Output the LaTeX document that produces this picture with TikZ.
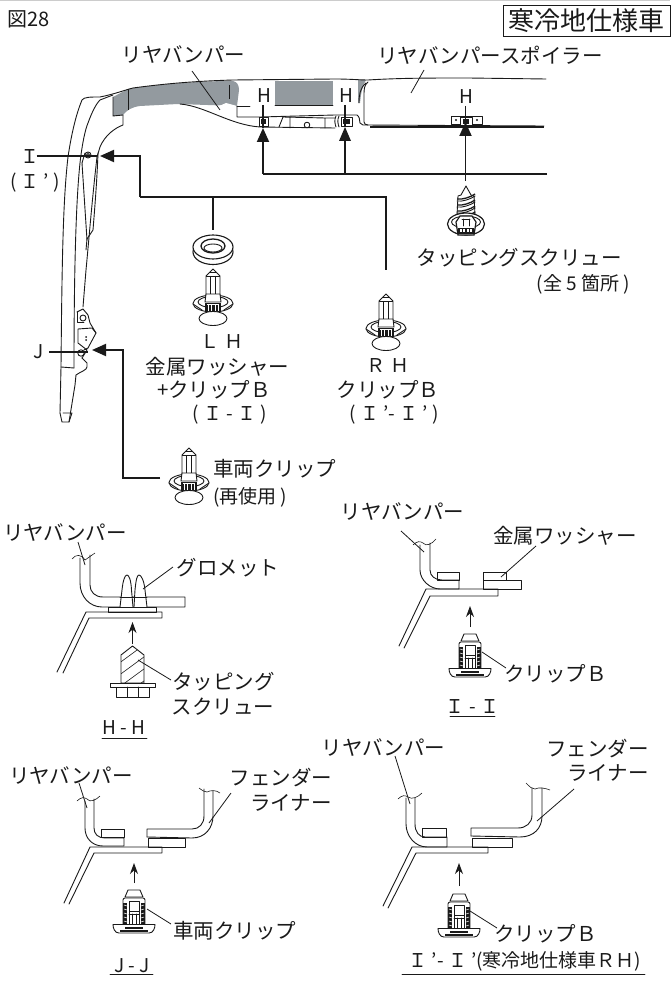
\documentclass[tikz,border=0pt]{standalone}
\usepackage{fontspec}
\setmainfont{Noto Sans CJK JP}
\usetikzlibrary{arrows.meta}
\definecolor{ink}{HTML}{1A1A1A}
\definecolor{bumpergray}{HTML}{939A9F}
\tikzset{
  lbl/.style={inner sep=0pt,text=ink,font=\fontsize{20.5}{24}\selectfont},
  lblsm/.style={inner sep=0pt,text=ink,font=\fontsize{19}{22}\selectfont},
  part/.style={draw=ink,line width=0.9pt,line join=round,line cap=round},
  fine/.style={draw=ink,line width=0.6pt},
  leader/.style={draw=ink,line width=0.8pt},
  cutline/.style={draw=ink,line width=1.3pt},
  feed/.style={draw=ink,line width=1.9pt,line join=miter},
  bigarrow/.style={feed,-{Triangle[length=14pt,width=12pt,fill=ink]}},
  smallarrow/.style={draw=ink,line width=1pt,-{Stealth[length=11pt,width=8pt,fill=ink]}},
  clipfront/.pic={
    \draw[part,fill=white] (0,0)--(-7,7)--(-7,25)--(-4,31)--(4,31)--(7,25)--(7,7)--cycle;
    \draw[fine] (-7,7)--(7,7) (-2.5,7)--(-2.5,27) (2.5,7)--(2.5,27) (-4,3)--(4,3);
    \draw[part,fill=white] (0,34.5) ellipse [x radius=20,y radius=8.5];
    \draw[part] (0,33) ellipse [x radius=15,y radius=5.5];
    \draw[part] (-20,35)--(-11,41) (20,35)--(11,41);
    \draw[part,fill=white] (-7,25)--(7,25)--(8,33)--(-8,33)--cycle;
    \fill[ink] (-8,34) rectangle (8,43);
    \foreach \xx in {-5,-2,2,5}{\draw[draw=white,line width=1pt] (\xx,36)--(\xx,42);}
    \draw[draw=white,line width=0.8pt] (-6,35.5)--(6,35.5);
    \draw[part,fill=white] (0,49.5) ellipse [x radius=14,y radius=7];
  },
  clipside/.pic={
    \draw[part,fill=white] (-6,0)--(6,0)--(9,7)--(-9,7)--cycle;
    \draw[part,fill=white] (-11,10) to[out=90,in=180] (-9,8)--(9,8) to[out=0,in=90] (11,10)--(11,35)--(-11,35)--cycle;
    \draw[part] (-5,11)--(5,11)--(5,21)--(-5,21)--cycle (-5,21)--(-5,35) (5,21)--(5,35) (-2,24)--(-2,36) (2,24)--(2,36) (-5,24)--(5,24);
    \foreach \sx in {-1,1}{
      \fill[ink] (\sx*7,13) rectangle (\sx*11,35);
      \foreach \yy in {16,20,24,28,32}{\draw[draw=white,line width=0.5pt] (\sx*7,\yy)--(\sx*10,\yy-1);}
    }
    \draw[part,fill=white] (-21,34.5)--(21,34.5) to[out=-90,in=0] (15,43)--(-15,43) to[out=180,in=-90] (-21,34.5)--cycle;
    \draw[draw=ink,line width=2.4pt] (-14,41)--(14,41);
    \draw[draw=ink,line width=2pt] (-9,37.5)--(9,37.5);
  },
  screwfront/.pic={
    \draw[part,fill=white] (0,0)--(-5,9)--(-8,10)--(-9,29)--(9,29)--(8,10)--(5,9)--cycle;
    \foreach \yy in {10,16,22,28}{
      \draw[draw=ink,line width=1.3pt] (-9,\yy+3) .. controls (-4,\yy+4) and (5,\yy+1) .. (9,\yy-2);
      \draw[part] (-9,\yy+5) .. controls (-4,\yy+6) and (5,\yy+3) .. (9,\yy);
    }
    \draw[draw=ink,line width=1.2pt,fill=white] (0,38) ellipse [x radius=18.5,y radius=11];
    \draw[part] (0,36) ellipse [x radius=14.5,y radius=6];
    \draw[draw=ink,line width=1.2pt,fill=white] (-10,36)--(-6,30)--(6,30)--(10,36)--(8,49)--(-8,49)--cycle;
    \fill[ink] (-8,42) rectangle (8,48);
    \foreach \xx in {-5,-2,2,5}{\fill[white] (\xx-.8,43.5) rectangle (\xx+.8,46.5);}
    \draw[part] (-4,33)--(4,33) (-3,33)--(-3,40) (3,33)--(3,40);
  },
}
\begin{document}
\begin{tikzpicture}[x=1pt,y=-1pt]
\useasboundingbox (0,0) rectangle (670,981);
\fill[white] (0,0) rectangle (670,981);
\fill[black!20] (0,0) rectangle (670,1.2);

%--- header
\node[lblsm,anchor=west,font=\fontsize{20}{24}\selectfont] (fig) at (7,19) {図28};
\node[draw=ink,line width=0.9pt,minimum width=167pt,minimum height=31.5pt,inner sep=0pt,text=ink,font=\fontsize{26}{30}\selectfont] (spec) at (586.5,21) {寒冷地仕様車};

%--- bumper, grey faces
\fill[bumpergray] (113,97)--(128,89) .. controls (160,84) and (200,81) .. (233,81) .. controls (237,82) and (239,85) .. (239,90)--(237,106)--(178,104)--(140,106) .. controls (132,107) and (127,110) .. (123,115)--(113,116)--cycle;
\fill[bumpergray] (275,81) rectangle (333,105);
\fill[bumpergray] (358,80)--(366,80) .. controls (362,86) and (361,94) .. (360,103)--(358,103)--cycle;
\fill[white] (206,108) .. controls (214,108) and (220,106) .. (226,103)--(237,106)--(237,112)--cycle;
\draw[fine] (128,89)--(128,110) (229,85)--(229,99);

%--- bumper outlines
\draw[part] (60,413)--(61,367) .. controls (62,260) and (63,200) .. (68,157) .. controls (72,130) and (77,112) .. (82,100) .. controls (84,97) and (90,97) .. (100,97) .. controls (115,94) and (125,90) .. (133,88) .. controls (170,83) and (200,81) .. (233,80)--(335,79) .. controls (350,79) and (360,80) .. (368,80) .. controls (400,78) and (430,78) .. (468,78)--(546,79);
\draw[part] (74,368) .. controls (74,300) and (75,210) .. (80,163) .. controls (82,145) and (85,130) .. (88,123) .. controls (92,112) and (96,104) .. (100,100)--(113,95);
\draw[part] (123,115)--(123,125) .. controls (115,128) and (105,135) .. (100,147)--(97,157) .. controls (92,200) and (88,250) .. (86,270)--(83,307);
\draw[part] (98,153) .. controls (97,180) and (95,205) .. (93,230)--(87,239)--(86,250);
\draw[part] (82,163)--(87,240);
\draw[part] (113,97)--(113,116)--(123,115);
\draw[part] (180,104) .. controls (205,106) and (230,125) .. (260,127)--(335,128);
\draw[part] (237,106)--(237,117)--(260,117)--(335,115)--(357,115) .. controls (359,116) and (360,120) .. (360,123)--(363,125)--(544,126);
\draw[part] (368,82) .. controls (364,85) and (364,90) .. (364,95)--(364,122) .. controls (364,124) and (366,125) .. (368,125);
\draw[part] (366,83) .. controls (360,88) and (359,95) .. (359,103);
\draw[draw=ink,line width=1.5pt] (370,127)--(544,127);
\draw[part] (237,106)--(250,106) (275,105)--(333,105);

% hardware along the bumper
\draw[part,fill=white] (259,117) rectangle (268,126);
\fill[ink] (261,119) rectangle (266,124);
\draw[part] (283,117)--(279,127) (290,117)--(290,128) (325,118)--(325,128) (283,117)--(325,118) (325,118)--(335,118);
\draw[part] (307,125) circle [radius=2.8];
\draw[part] (336,116) .. controls (334,120) and (335,124) .. (336,127) (339,116) .. controls (337,120) and (338,124) .. (339,127);
\draw[part,fill=white] (341,117) rectangle (352,126);
\fill[ink] (343,119) rectangle (350,124);
\draw[part,fill=white] (451,116) rectangle (482,124);
\fill[ink] (456,120) circle [radius=1.2] (477,120) circle [radius=1.2];
\draw[part,fill=white] (460,117) rectangle (472,125);
\fill[ink] (463,119) rectangle (469,124);

% lower bumper end
\draw[part] (60,413)--(62,422)--(69,422)--(72,413)--(63,413);
\draw[part] (74,368)--(61,367);
\draw[part] (69,422)--(75,385)--(76,375) .. controls (80,372) and (87,370) .. (87,367)--(87,363)--(82,358);
\draw[part] (84,350)--(88,348)--(96,333)--(92,328)--(78,329)--(78,343)--(87,350)--(82,358);
\draw[part] (77,312)--(83,309)--(88,315)--(90,323)--(96,333);
\draw[part] (77,312)--(77,322)--(84,322);
\draw[part] (83,318) circle [radius=3];
\fill[ink] (86,337) circle [radius=1] (86,340) circle [radius=1];
\draw[part] (81,353) circle [radius=3.2];
\draw[part] (88,155) circle [radius=3] (88,155) circle [radius=1.5];
\draw[part] (82,163)--(85,153);

%--- top labels
\node[lbl] (lblbumper) at (183.5,55) {リヤバンパー};
\node[lbl] (lblspoiler) at (490,55) {リヤバンパースポイラー};
\coordinate (a1) at (192,71); \coordinate (a2) at (220,110); \draw[leader] (a1)--(a2);
\coordinate (b1) at (424,70); \coordinate (b2) at (411,93); \draw[leader] (b1)--(b2);

\node[lblsm] (hone) at (264,96) {H};
\node[lblsm] (htwo) at (346,96) {H};
\node[lblsm] (hthree) at (466,97) {H};

%--- H arrows
\coordinate (tipa) at (263,128); \coordinate (tipb) at (345,127); \coordinate (tipc) at (465.5,122);
\coordinate (turna) at (263,174); \coordinate (footb) at (345,174); \coordinate (busend) at (547,174);
\coordinate (footc) at (465.5,181);
\coordinate (shaftb) at (345,138);
\draw[cutline] (263,105)--(tipa);
\draw[cutline] (345,105)--(tipb);
\draw[cutline] (465.5,106)--(tipc);
\draw[feed] (busend)--(turna);
\draw[bigarrow] (turna)--(tipa);
\draw[feed] (footb)--(shaftb);
\fill[ink] (tipb)--(339,141)--(351,141)--cycle;
\draw[bigarrow] (footc)--(tipc);

\pic at (466,186) {screwfront};
\node[lbl] (lbltap) at (519,258) {タッピングスクリュー};
\node[lblsm,anchor=east] (lblfive) at (630,284) {(全 5 箇所 )};

%--- I, J
\node[lblsm] (lbli) at (30,157) {Ｉ};
\node[lblsm] (lblip) at (35,183) {( Ｉ ' )};
\coordinate (icut) at (97,156); \coordinate (itip) at (100,156);
\draw[cutline] (lbli.east)++(-3,-1)--(icut);
\coordinate (i1) at (140,156); \coordinate (i2) at (140,197); \coordinate (i3) at (386,197); \coordinate (i4) at (386,270); \coordinate (i5) at (213,197); \coordinate (i6) at (213,230);
\draw[bigarrow] (i2)--(i1)--(itip);
\draw[feed] (i2)--(i3)--(i4);
\draw[feed] (i5)--(i6);

\node[lblsm] (lblj) at (39,352) {J};
\coordinate (jcut) at (88,352); \coordinate (jtip) at (92,350);
\draw[cutline] (lblj.east)++(5,0)--(jcut);
\coordinate (j1) at (123,350); \coordinate (j2) at (123,478); \coordinate (j3) at (160,478);
\draw[bigarrow] (j3)--(j2)--(j1)--(jtip);

%--- grommet washer and clips
\draw[draw=ink,line width=1.1pt,fill=white] (213,252) ellipse [x radius=20,y radius=12.5];
\draw[draw=ink,line width=1.1pt,fill=white] (213,247) ellipse [x radius=20,y radius=12];
\draw[draw=ink,line width=1.3pt,fill=white] (213,246) ellipse [x radius=12,y radius=7];
\draw[part] (213,248) ellipse [x radius=9,y radius=4];
\pic at (213,269) {clipfront};
\pic at (386,294) {clipfront};
\pic at (189,448) {clipfront};

\node[lblsm] (lh) at (222,342) {Ｌ Ｈ};
\node[lbl] (lhwasher) at (217.5,367) {金属ワッシャー};
\node[lbl] (lhclip) at (214,390) {+クリップＢ};
\node[lblsm] (lhsec) at (230,415) {( Ｉ - Ｉ )};
\node[lblsm] (rh) at (388,366) {Ｒ Ｈ};
\node[lbl] (rhclip) at (388,390) {クリップＢ};
\node[lblsm] (rhsec) at (394,415) {( Ｉ '- Ｉ ' )};
\node[lbl,anchor=west] (carclip) at (213,469) {車両クリップ};
\node[lblsm,anchor=west] (reuse) at (213,497) {(再使用 )};

%--- section H-H
\node[lbl] (hhbumper) at (65,533) {リヤバンパー};
\node[lbl] (hhgrom) at (228,568) {グロメット};
\node[lbl] (hhtap) at (223.5,682) {タッピング};
\node[lbl] (hhscrew) at (223,707) {スクリュー};
\node[lblsm] (hhsec) at (124,728) {H - H};
\draw[part] (102,738)--(147,738);
\coordinate (hh1) at (78,542); \coordinate (hh2) at (85,565); \draw[leader] (hh1)--(hh2);
\draw[fine] (72,559) .. controls (76,554) and (81,554) .. (85,560) .. controls (88,558) and (92,555) .. (95,553);
\draw[part] (80,558)--(80,583) .. controls (80,597) and (90,607) .. (102,607)--(185,607)--(185,597)--(103,597) .. controls (95,597) and (90,592) .. (90,585)--(90,555);
\draw[part,fill=white] (108,607) rectangle (156,612);
\draw[part,fill=white] (120,607)--(122,590) .. controls (123,580) and (125,575) .. (127,575) .. controls (129,575) and (131,580) .. (131.5,590)--(133,607);
\draw[part,fill=white] (134,607)--(135,590) .. controls (136,580) and (137,575) .. (139,575) .. controls (141,575) and (144,580) .. (145,590)--(147,607);
\draw[part] (120,597)--(147,597) (120,607)--(147,607);
\coordinate (hg1) at (173,567); \coordinate (hg2) at (143,589); \draw[leader] (hg1)--(hg2);
\draw[part] (57,672)--(86,612)--(162,612)--(162,618)--(89,618)--(63,673);
\coordinate (ha1) at (132.5,644); \coordinate (ha2) at (132.5,622); \draw[smallarrow] (ha1)--(ha2);
\begin{scope}
\clip (132.5,646)--(144,655)--(144,683)--(121,683)--(121,655)--cycle;
\foreach \yy in {652,664,676,688,700}{\draw[fine] (118,\yy)--(148,\yy-22);}
\end{scope}
\draw[part] (132.5,646)--(144,655)--(144,683)--(121,683)--(121,655)--cycle;
\draw[part] (110,683) rectangle (155,687);
\draw[part] (116,687) rectangle (149,697) (127,687)--(127,697) (138,687)--(138,697);
\coordinate (ht1) at (138,660); \coordinate (ht2) at (171,680); \draw[leader] (ht1)--(ht2);

%--- section I-I
\node[lbl] (iibumper) at (402.5,512) {リヤバンパー};
\node[lbl] (iiwasher) at (565,536) {金属ワッシャー};
\node[lbl] (iiclip) at (555.5,674) {クリップＢ};
\node[lblsm] (iisec) at (472.5,707) {Ｉ - Ｉ};
\draw[part] (450,716)--(495,716);
\coordinate (ia1) at (401,531); \coordinate (ia2) at (424,552); \draw[leader] (ia1)--(ia2);
\draw[fine] (413,545) .. controls (417,541) and (420,541) .. (423,543) .. controls (426,547) and (432,544) .. (436,539);
\draw[part] (420,545)--(420,570) .. controls (420,580) and (430,589) .. (440,589)--(459,589)--(459,580)--(442,580) .. controls (435,580) and (430,576) .. (430,570)--(430,543);
\draw[part] (437,572) rectangle (459,580);
\draw[part] (483,580) rectangle (521,589);
\draw[part] (483,572) rectangle (506,580);
\draw[part] (399,646)--(426,589)--(498,589)--(498,596)--(430,596)--(404,648);
\coordinate (iw1) at (536,546); \coordinate (iw2) at (501,577); \draw[leader] (iw1)--(iw2);
\coordinate (iar1) at (470,627); \coordinate (iar2) at (470,606); \draw[smallarrow] (iar1)--(iar2);
\pic at (470,634) {clipside};
\coordinate (ic1) at (482,652); \coordinate (ic2) at (506,668); \draw[leader] (ic1)--(ic2);

%--- section J-J
\node[lbl] (jjbumper) at (71,776) {リヤバンパー};
\node[lbl] (jjfend) at (281,778) {フェンダー};
\node[lbl] (jjliner) at (291,803) {ライナー};
\node[lbl] (jjclip) at (234.5,931) {車両クリップ};
\node[lblsm] (jjsec) at (132,966) {J - J};
\draw[part] (110,974)--(153,974);
\coordinate (ja1) at (79,783); \coordinate (ja2) at (87,808); \draw[leader] (ja1)--(ja2);
\draw[fine] (77,801) .. controls (81,797) and (84,797) .. (87,799) .. controls (90,803) and (96,800) .. (100,796);
\draw[part] (85,801)--(85,828) .. controls (85,838) and (92,846) .. (103,846)--(124,846)--(124,838)--(105,838) .. controls (98,838) and (94,834) .. (94,828)--(94,799);
\draw[part] (101,829) rectangle (124,837);
\draw[part] (148,838) rectangle (185,847);
\draw[part] (147,837)--(147,829)--(192,829) .. controls (199,829) and (204,824) .. (204,816)--(204,789);
\draw[part] (147,837)--(192,838) .. controls (205,838) and (213,828) .. (213,816)--(213,791);
\draw[fine] (199,788) .. controls (203,791) and (205,792) .. (207,792) .. controls (211,790) and (216,790) .. (220,793);
\draw[part] (64,903)--(90,847)--(162,847)--(162,853)--(94,853)--(69,904);
\coordinate (jl1) at (231,793); \coordinate (jl2) at (209,823); \draw[leader] (jl1)--(jl2);
\coordinate (jar1) at (134,883); \coordinate (jar2) at (134,863); \draw[smallarrow] (jar1)--(jar2);
\pic at (134,890) {clipside};
\coordinate (jc1) at (147,909); \coordinate (jc2) at (171,924); \draw[leader] (jc1)--(jc2);

%--- section I'-I'
\node[lbl] (ipbumper) at (383.5,748) {リヤバンパー};
\node[lbl] (ipfend) at (597.5,749) {フェンダー};
\node[lbl] (ipliner) at (608,773) {ライナー};
\node[lbl] (ipclip) at (545.5,934) {クリップＢ};
\node[lblsm] (ipsec) at (525,961) {Ｉ '- Ｉ '(寒冷地仕様車ＲＨ)};
\draw[part] (402,974)--(645,974);
\coordinate (ka1) at (395,756); \coordinate (ka2) at (410,804); \draw[leader] (ka1)--(ka2);
\draw[fine] (398,799) .. controls (402,795) and (405,795) .. (408,797) .. controls (412,800) and (418,797) .. (422,793);
\draw[part] (406,798)--(406,824) .. controls (406,836) and (415,847) .. (427,847)--(447,847)--(447,837)--(425,837) .. controls (419,837) and (415,832) .. (415,824)--(415,798);
\draw[part] (422,828) rectangle (446,837);
\draw[part] (472,838) rectangle (512,847);
\draw[part] (471,836)--(471,828)--(518,828) .. controls (526,828) and (532,823) .. (532,815)--(532,788);
\draw[part] (471,836)--(520,837) .. controls (534,837) and (542,828) .. (542,816)--(542,788);
\draw[fine] (526,783) .. controls (530,787) and (532,789) .. (535,789) .. controls (539,787) and (545,788) .. (550,790);
\draw[part] (383,906)--(412,847)--(488,847)--(488,853)--(416,853)--(388,908);
\coordinate (kl1) at (574,789); \coordinate (kl2) at (537,821); \draw[leader] (kl1)--(kl2);
\coordinate (kar1) at (459,886); \coordinate (kar2) at (459,863); \draw[smallarrow] (kar1)--(kar2);
\pic at (459,894) {clipside};
\coordinate (kc1) at (470,911); \coordinate (kc2) at (497,928); \draw[leader] (kc1)--(kc2);
\end{tikzpicture}
\end{document}
